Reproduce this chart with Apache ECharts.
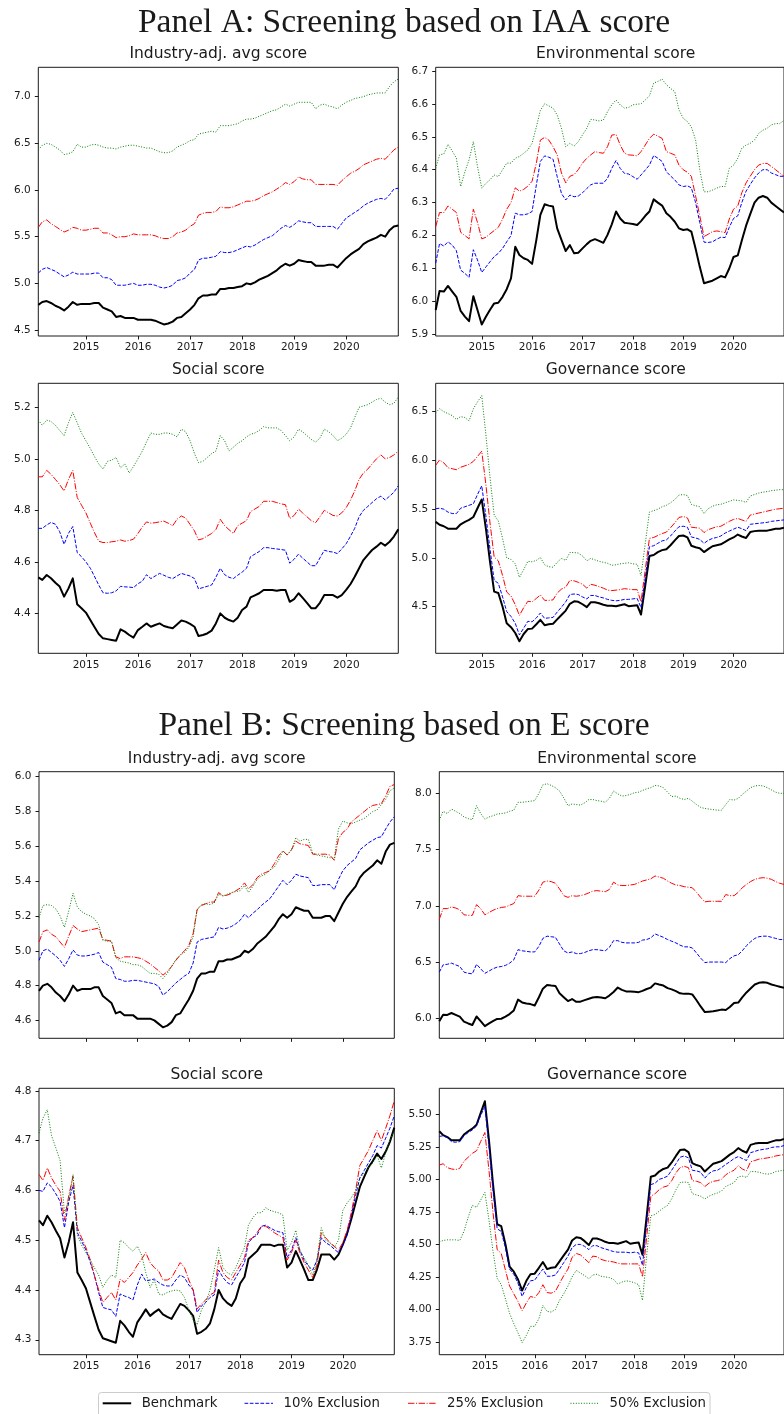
<!DOCTYPE html>
<html>
<head>
<meta charset="utf-8">
<script src="https://cdn.jsdelivr.net/npm/echarts@6/dist/echarts.min.js"></script>
<style>
html,body{margin:0;padding:0;background:#ffffff;}
#chart{width:784px;height:1414px;}
</style>
</head>
<body>
<div id="chart"></div>
<script>
// ---------------- DATA ----------------
// Monthly observations, month-ends Jan 2014 .. Dec 2020 (84 months)
const firstYear = 2014;
const nMonths = 84;
const yearTicks = [2015, 2016, 2017, 2018, 2019, 2020];
const seriesNames = ['Benchmark', '10% Exclusion', '25% Exclusion', '50% Exclusion'];
const panelTitles = ['Panel A: Screening based on IAA score', 'Panel B: Screening based on E score'];
const subTitles = ['Industry-adj. avg score', 'Environmental score', 'Social score', 'Governance score'];

// Benchmark (same in both panels)
const bench_ind = [
4.77,4.80,4.81,4.79,4.76,4.74,4.71,4.75,4.80,4.77,4.78,4.78,
4.78,4.79,4.79,4.74,4.72,4.70,4.64,4.65,4.63,4.63,4.63,4.61,
4.61,4.61,4.61,4.60,4.58,4.56,4.57,4.59,4.63,4.64,4.68,4.72,
4.77,4.84,4.87,4.87,4.88,4.88,4.94,4.94,4.95,4.95,4.96,4.97,
5.00,4.99,5.01,5.04,5.06,5.08,5.11,5.14,5.18,5.21,5.19,5.21,
5.25,5.24,5.23,5.23,5.19,5.19,5.19,5.20,5.20,5.17,5.22,5.27,
5.31,5.34,5.37,5.42,5.45,5.47,5.49,5.52,5.50,5.57,5.61,5.62];
const bench_env = [
5.974,6.032,6.030,6.047,6.030,6.014,5.971,5.954,5.940,6.016,5.974,5.930,
5.954,5.974,5.994,5.996,6.014,6.037,6.070,6.166,6.141,6.131,6.126,6.114,
6.187,6.263,6.295,6.291,6.288,6.222,6.187,6.153,6.171,6.146,6.148,6.161,
6.174,6.184,6.189,6.184,6.178,6.202,6.234,6.273,6.252,6.239,6.237,6.235,
6.232,6.244,6.260,6.273,6.310,6.300,6.291,6.268,6.257,6.242,6.222,6.217,
6.219,6.212,6.160,6.105,6.055,6.059,6.063,6.070,6.077,6.073,6.100,6.135,
6.140,6.185,6.230,6.265,6.300,6.315,6.320,6.315,6.300,6.290,6.280,6.270];
const bench_soc = [
4.540,4.530,4.549,4.536,4.519,4.504,4.465,4.497,4.536,4.435,4.420,4.403,
4.374,4.348,4.320,4.303,4.300,4.297,4.294,4.338,4.329,4.316,4.306,4.335,
4.348,4.361,4.348,4.355,4.361,4.351,4.346,4.342,4.357,4.372,4.368,4.359,
4.348,4.312,4.316,4.322,4.333,4.361,4.400,4.383,4.374,4.368,4.383,4.413,
4.426,4.462,4.470,4.478,4.491,4.491,4.491,4.488,4.491,4.491,4.445,4.455,
4.478,4.461,4.441,4.420,4.420,4.441,4.471,4.471,4.471,4.461,4.471,4.491,
4.514,4.542,4.575,4.607,4.627,4.646,4.659,4.674,4.663,4.678,4.698,4.726];
const bench_gov = [
5.370,5.340,5.325,5.300,5.300,5.300,5.345,5.370,5.390,5.420,5.510,5.600,
5.290,4.970,4.655,4.640,4.500,4.330,4.290,4.230,4.145,4.220,4.270,4.275,
4.320,4.365,4.310,4.320,4.325,4.370,4.415,4.460,4.530,4.555,4.550,4.525,
4.495,4.545,4.545,4.535,4.520,4.510,4.510,4.505,4.515,4.525,4.505,4.510,
4.515,4.420,4.720,5.020,5.030,5.060,5.080,5.090,5.130,5.180,5.225,5.230,
5.210,5.125,5.110,5.100,5.060,5.090,5.120,5.130,5.140,5.165,5.190,5.210,
5.240,5.220,5.205,5.265,5.275,5.280,5.280,5.280,5.290,5.300,5.300,5.310];

// Panel A: screening on IAA score
const a_ind_10 = [
5.11,5.15,5.17,5.15,5.13,5.10,5.07,5.09,5.12,5.10,5.10,5.10,
5.10,5.11,5.11,5.06,5.06,5.04,4.98,4.98,4.98,4.99,5.00,4.98,
4.98,4.99,4.99,4.98,4.96,4.95,4.96,4.98,5.03,5.04,5.06,5.11,
5.15,5.25,5.27,5.27,5.28,5.29,5.34,5.33,5.33,5.34,5.36,5.38,
5.40,5.39,5.41,5.44,5.47,5.49,5.51,5.55,5.59,5.62,5.60,5.63,
5.67,5.66,5.65,5.65,5.61,5.61,5.61,5.61,5.61,5.58,5.64,5.70,
5.73,5.76,5.79,5.83,5.86,5.88,5.90,5.91,5.90,5.95,6.01,6.02];
const a_ind_25 = [
5.60,5.66,5.68,5.64,5.61,5.58,5.55,5.57,5.60,5.59,5.57,5.57,
5.58,5.59,5.59,5.54,5.54,5.52,5.49,5.50,5.50,5.51,5.53,5.52,
5.52,5.52,5.52,5.51,5.49,5.48,5.48,5.50,5.54,5.55,5.57,5.61,
5.64,5.73,5.75,5.76,5.76,5.77,5.82,5.81,5.81,5.82,5.84,5.86,
5.88,5.88,5.89,5.91,5.94,5.96,5.98,6.01,6.04,6.08,6.06,6.09,
6.14,6.12,6.11,6.11,6.06,6.06,6.06,6.06,6.06,6.05,6.10,6.14,
6.18,6.20,6.23,6.27,6.29,6.31,6.33,6.34,6.33,6.38,6.43,6.46];
const a_ind_50 = [
6.43,6.48,6.50,6.49,6.46,6.43,6.38,6.39,6.41,6.49,6.46,6.46,
6.48,6.49,6.48,6.46,6.45,6.45,6.44,6.46,6.47,6.48,6.48,6.47,
6.46,6.45,6.45,6.43,6.41,6.40,6.40,6.42,6.46,6.48,6.50,6.53,
6.54,6.60,6.61,6.62,6.63,6.62,6.69,6.69,6.69,6.70,6.71,6.74,
6.76,6.76,6.77,6.79,6.81,6.83,6.85,6.86,6.89,6.92,6.90,6.92,
6.94,6.94,6.94,6.94,6.87,6.91,6.92,6.90,6.89,6.87,6.91,6.94,
6.96,6.98,6.99,7.00,7.02,7.03,7.04,7.04,7.04,7.11,7.16,7.19];
const a_env_10 = [
6.116,6.176,6.168,6.181,6.171,6.154,6.095,6.085,6.073,6.157,6.126,6.088,
6.105,6.120,6.136,6.146,6.161,6.181,6.200,6.268,6.263,6.263,6.266,6.273,
6.354,6.425,6.442,6.438,6.432,6.379,6.328,6.308,6.323,6.318,6.320,6.330,
6.343,6.354,6.359,6.359,6.359,6.374,6.404,6.428,6.404,6.389,6.387,6.379,
6.371,6.384,6.399,6.414,6.443,6.435,6.425,6.394,6.381,6.369,6.354,6.349,
6.351,6.345,6.300,6.240,6.180,6.179,6.181,6.189,6.195,6.194,6.225,6.252,
6.260,6.300,6.335,6.355,6.375,6.390,6.400,6.400,6.390,6.385,6.380,6.380];
const a_env_25 = [
6.227,6.270,6.270,6.290,6.280,6.270,6.210,6.200,6.190,6.280,6.240,6.190,
6.195,6.205,6.215,6.225,6.250,6.280,6.300,6.345,6.335,6.340,6.350,6.365,
6.420,6.490,6.498,6.490,6.470,6.445,6.390,6.360,6.380,6.385,6.400,6.420,
6.435,6.445,6.455,6.452,6.450,6.470,6.505,6.507,6.475,6.450,6.445,6.444,
6.442,6.455,6.475,6.495,6.508,6.502,6.495,6.455,6.450,6.445,6.414,6.400,
6.392,6.380,6.320,6.260,6.197,6.204,6.212,6.214,6.212,6.209,6.250,6.280,
6.290,6.330,6.360,6.380,6.400,6.414,6.419,6.419,6.410,6.400,6.390,6.380];
const a_env_50 = [
6.404,6.445,6.448,6.477,6.457,6.435,6.349,6.394,6.430,6.485,6.410,6.344,
6.359,6.369,6.384,6.379,6.400,6.420,6.420,6.435,6.440,6.450,6.460,6.480,
6.530,6.580,6.600,6.594,6.587,6.566,6.526,6.470,6.480,6.472,6.485,6.506,
6.526,6.553,6.551,6.548,6.551,6.576,6.597,6.612,6.597,6.587,6.589,6.597,
6.599,6.600,6.612,6.624,6.663,6.668,6.675,6.658,6.647,6.637,6.582,6.556,
6.546,6.530,6.490,6.400,6.333,6.333,6.338,6.344,6.349,6.349,6.404,6.414,
6.435,6.465,6.475,6.480,6.490,6.510,6.520,6.526,6.536,6.540,6.540,6.550];
const a_soc_10 = [
4.730,4.730,4.743,4.753,4.746,4.717,4.668,4.711,4.737,4.636,4.620,4.600,
4.575,4.545,4.510,4.480,4.478,4.480,4.487,4.505,4.503,4.502,4.500,4.515,
4.525,4.550,4.535,4.545,4.555,4.548,4.540,4.535,4.545,4.555,4.550,4.545,
4.535,4.495,4.500,4.505,4.510,4.540,4.575,4.550,4.540,4.535,4.548,4.560,
4.575,4.620,4.630,4.640,4.655,4.655,4.652,4.650,4.648,4.645,4.595,4.610,
4.630,4.615,4.600,4.585,4.585,4.615,4.645,4.640,4.638,4.632,4.650,4.670,
4.700,4.730,4.775,4.800,4.815,4.830,4.845,4.855,4.840,4.855,4.870,4.895];
const a_soc_25 = [
4.930,4.930,4.955,4.940,4.920,4.900,4.875,4.920,4.955,4.850,4.820,4.790,
4.750,4.715,4.680,4.675,4.675,4.678,4.680,4.685,4.680,4.683,4.688,4.710,
4.735,4.755,4.750,4.752,4.755,4.758,4.750,4.740,4.765,4.778,4.770,4.745,
4.720,4.685,4.690,4.700,4.710,4.725,4.765,4.740,4.725,4.710,4.740,4.750,
4.760,4.795,4.805,4.815,4.835,4.835,4.835,4.830,4.825,4.822,4.768,4.780,
4.805,4.790,4.775,4.760,4.752,4.775,4.800,4.790,4.780,4.778,4.790,4.810,
4.840,4.875,4.920,4.945,4.960,4.980,5.000,5.015,5.000,5.005,5.015,5.030];
const a_soc_50 = [
5.150,5.130,5.150,5.145,5.130,5.110,5.090,5.140,5.180,5.140,5.100,5.070,
5.040,5.010,4.980,4.960,4.990,4.995,5.005,4.965,4.980,4.945,4.970,5.000,
5.030,5.065,5.100,5.095,5.095,5.100,5.100,5.095,5.085,5.115,5.105,5.070,
5.020,4.985,4.990,5.005,5.020,5.030,5.090,5.070,5.030,5.045,5.060,5.070,
5.085,5.095,5.100,5.110,5.125,5.120,5.120,5.120,5.110,5.090,5.070,5.085,
5.115,5.105,5.090,5.075,5.065,5.080,5.115,5.105,5.090,5.070,5.080,5.095,
5.120,5.160,5.200,5.205,5.210,5.220,5.230,5.235,5.220,5.210,5.215,5.240];
const a_gov_10 = [
5.505,5.510,5.500,5.470,5.455,5.455,5.510,5.525,5.540,5.555,5.650,5.740,
5.420,5.100,4.770,4.740,4.600,4.450,4.400,4.330,4.210,4.280,4.350,4.345,
4.385,4.435,4.380,4.385,4.390,4.445,4.495,4.550,4.625,4.630,4.625,4.600,
4.580,4.615,4.615,4.600,4.590,4.575,4.565,4.560,4.565,4.575,4.575,4.580,
4.585,4.490,4.800,5.115,5.125,5.150,5.175,5.185,5.225,5.275,5.320,5.325,
5.315,5.215,5.205,5.190,5.150,5.180,5.200,5.210,5.225,5.255,5.275,5.295,
5.315,5.300,5.280,5.345,5.350,5.355,5.360,5.365,5.375,5.380,5.385,5.390];
const a_gov_25 = [
5.950,6.005,5.975,5.925,5.915,5.905,5.930,5.945,5.960,5.990,6.040,6.095,
5.740,5.370,5.010,4.970,4.820,4.650,4.610,4.520,4.410,4.490,4.555,4.550,
4.585,4.620,4.565,4.565,4.570,4.640,4.680,4.700,4.770,4.765,4.750,4.730,
4.690,4.730,4.720,4.705,4.690,4.670,4.665,4.670,4.675,4.685,4.680,4.675,
4.675,4.550,4.880,5.200,5.210,5.230,5.250,5.265,5.310,5.360,5.415,5.425,
5.410,5.315,5.310,5.305,5.260,5.290,5.305,5.320,5.325,5.350,5.375,5.395,
5.405,5.390,5.375,5.440,5.450,5.460,5.470,5.480,5.490,5.500,5.505,5.510];
const a_gov_50 = [
6.490,6.530,6.500,6.480,6.460,6.420,6.450,6.440,6.405,6.530,6.600,6.665,
6.250,5.840,5.440,5.380,5.200,5.000,4.985,4.940,4.800,4.880,4.965,4.960,
4.975,5.005,4.930,4.910,4.905,4.955,4.995,4.975,5.055,5.055,5.050,5.020,
4.970,4.995,4.980,4.965,4.955,4.945,4.925,4.930,4.940,4.945,4.950,4.940,
4.935,4.820,5.150,5.470,5.485,5.500,5.525,5.540,5.565,5.600,5.645,5.650,
5.640,5.550,5.535,5.525,5.455,5.505,5.530,5.545,5.550,5.565,5.580,5.595,
5.590,5.585,5.570,5.635,5.650,5.665,5.675,5.680,5.690,5.695,5.700,5.700];

// Panel B: screening on E score
const b_ind_10 = [
4.945,5.000,5.010,4.990,4.970,4.945,4.910,4.955,5.005,4.975,4.970,4.970,
4.975,4.980,4.990,4.935,4.920,4.905,4.840,4.835,4.825,4.825,4.830,4.830,
4.825,4.820,4.815,4.810,4.795,4.745,4.765,4.790,4.815,4.835,4.855,4.870,
4.930,5.050,5.065,5.070,5.075,5.080,5.135,5.125,5.130,5.140,5.155,5.175,
5.210,5.190,5.215,5.235,5.260,5.280,5.300,5.335,5.370,5.405,5.380,5.405,
5.440,5.430,5.425,5.420,5.375,5.375,5.380,5.380,5.380,5.350,5.410,5.460,
5.490,5.510,5.530,5.580,5.600,5.620,5.635,5.650,5.655,5.700,5.740,5.770];
const b_ind_25 = [
5.050,5.110,5.120,5.095,5.080,5.050,5.020,5.085,5.145,5.125,5.110,5.115,
5.120,5.125,5.130,5.065,5.060,5.055,4.965,4.955,4.965,4.965,4.965,4.960,
4.955,4.940,4.925,4.905,4.885,4.860,4.880,4.910,4.945,4.975,5.000,5.030,
5.100,5.235,5.260,5.270,5.280,5.280,5.335,5.315,5.320,5.330,5.345,5.360,
5.390,5.355,5.380,5.420,5.440,5.450,5.460,5.500,5.545,5.575,5.550,5.580,
5.630,5.615,5.610,5.605,5.555,5.555,5.555,5.555,5.550,5.520,5.645,5.680,
5.700,5.740,5.760,5.780,5.800,5.820,5.835,5.840,5.845,5.890,5.945,5.955];
const b_ind_50 = [
5.190,5.260,5.265,5.260,5.240,5.200,5.135,5.230,5.330,5.250,5.225,5.210,
5.200,5.185,5.150,5.060,5.055,5.055,4.960,4.940,4.935,4.930,4.920,4.920,
4.910,4.890,4.870,4.870,4.865,4.840,4.870,4.910,4.950,4.975,4.990,5.020,
5.080,5.240,5.265,5.270,5.265,5.275,5.325,5.315,5.325,5.335,5.340,5.345,
5.375,5.335,5.370,5.410,5.430,5.440,5.465,5.480,5.520,5.575,5.550,5.580,
5.650,5.630,5.640,5.640,5.560,5.550,5.545,5.540,5.535,5.530,5.700,5.745,
5.735,5.730,5.740,5.750,5.760,5.780,5.800,5.810,5.840,5.870,5.920,5.935];
const b_env_10 = [
6.410,6.475,6.480,6.490,6.475,6.460,6.410,6.400,6.395,6.480,6.440,6.400,
6.420,6.440,6.455,6.460,6.470,6.490,6.520,6.610,6.600,6.595,6.590,6.590,
6.640,6.710,6.730,6.725,6.720,6.660,6.600,6.580,6.590,6.575,6.575,6.585,
6.600,6.610,6.610,6.605,6.600,6.630,6.690,6.690,6.675,6.670,6.670,6.670,
6.675,6.695,6.700,6.715,6.750,6.735,6.720,6.700,6.685,6.670,6.650,6.635,
6.635,6.625,6.580,6.535,6.495,6.500,6.500,6.500,6.500,6.495,6.530,6.555,
6.565,6.600,6.645,6.680,6.710,6.725,6.730,6.730,6.720,6.710,6.700,6.700];
const b_env_25 = [
6.880,6.975,6.975,6.990,6.980,6.965,6.920,6.915,6.915,7.010,6.975,6.920,
6.940,6.960,6.975,6.985,6.990,7.005,7.020,7.090,7.085,7.085,7.085,7.085,
7.140,7.210,7.220,7.215,7.200,7.150,7.090,7.075,7.090,7.085,7.090,7.100,
7.115,7.130,7.135,7.130,7.125,7.145,7.210,7.185,7.180,7.180,7.185,7.190,
7.205,7.220,7.230,7.240,7.265,7.255,7.245,7.220,7.200,7.185,7.180,7.170,
7.165,7.160,7.120,7.075,7.035,7.040,7.040,7.040,7.040,7.100,7.090,7.090,
7.120,7.160,7.190,7.215,7.235,7.245,7.250,7.245,7.235,7.215,7.200,7.190];
const b_env_50 = [
7.760,7.840,7.820,7.860,7.840,7.820,7.790,7.775,7.765,7.890,7.820,7.770,
7.790,7.800,7.815,7.820,7.825,7.840,7.850,7.920,7.920,7.925,7.930,7.935,
8.000,8.075,8.085,8.070,8.050,8.020,7.960,7.890,7.905,7.900,7.895,7.915,
7.945,7.945,7.935,7.930,7.920,7.955,8.020,7.995,7.975,7.980,7.990,8.005,
8.010,8.025,8.040,8.050,8.070,8.065,8.050,8.010,7.970,7.975,7.955,7.945,
7.955,7.930,7.900,7.875,7.865,7.860,7.855,7.850,7.850,7.900,7.945,7.940,
7.955,7.990,8.020,8.050,8.065,8.070,8.065,8.050,8.030,8.010,8.000,8.000];
const b_soc_10 = [
4.600,4.598,4.615,4.607,4.593,4.578,4.525,4.578,4.610,4.515,4.498,4.480,
4.455,4.430,4.395,4.365,4.362,4.360,4.347,4.392,4.388,4.385,4.380,4.410,
4.432,4.418,4.420,4.422,4.415,4.410,4.408,4.408,4.420,4.430,4.425,4.410,
4.400,4.355,4.368,4.375,4.385,4.390,4.440,4.425,4.415,4.410,4.425,4.440,
4.455,4.495,4.505,4.510,4.528,4.530,4.525,4.520,4.517,4.515,4.465,4.480,
4.505,4.480,4.460,4.448,4.440,4.460,4.505,4.495,4.490,4.482,4.475,4.490,
4.510,4.550,4.590,4.625,4.640,4.655,4.670,4.690,4.685,4.705,4.725,4.750];
const b_soc_25 = [
4.632,4.620,4.645,4.625,4.610,4.598,4.540,4.590,4.628,4.525,4.505,4.485,
4.460,4.430,4.400,4.375,4.385,4.395,4.380,4.422,4.415,4.425,4.435,4.450,
4.462,4.475,4.455,4.445,4.438,4.420,4.420,4.425,4.440,4.455,4.445,4.420,
4.400,4.362,4.372,4.380,4.390,4.395,4.460,4.435,4.425,4.420,4.435,4.450,
4.465,4.500,4.505,4.515,4.528,4.528,4.522,4.515,4.510,4.505,4.460,4.475,
4.500,4.475,4.455,4.440,4.425,4.450,4.515,4.505,4.495,4.488,4.480,4.495,
4.520,4.555,4.600,4.650,4.665,4.680,4.700,4.720,4.700,4.725,4.750,4.780];
const b_soc_50 = [
4.715,4.745,4.762,4.710,4.685,4.660,4.555,4.580,4.632,4.510,4.490,4.475,
4.460,4.445,4.430,4.405,4.420,4.430,4.425,4.500,4.495,4.485,4.478,4.488,
4.470,4.435,4.405,4.420,4.392,4.390,4.395,4.398,4.400,4.398,4.385,4.360,
4.340,4.330,4.360,4.375,4.400,4.440,4.485,4.445,4.435,4.430,4.445,4.465,
4.485,4.530,4.545,4.555,4.555,4.565,4.560,4.557,4.555,4.550,4.480,4.495,
4.520,4.480,4.465,4.450,4.430,4.460,4.525,4.500,4.495,4.485,4.500,4.560,
4.575,4.585,4.600,4.625,4.635,4.645,4.655,4.670,4.645,4.675,4.700,4.720];
const b_gov_10 = [
5.330,5.335,5.320,5.290,5.285,5.290,5.335,5.360,5.380,5.410,5.490,5.560,
5.240,4.920,4.620,4.600,4.470,4.310,4.270,4.200,4.100,4.170,4.220,4.225,
4.270,4.310,4.255,4.255,4.265,4.310,4.360,4.410,4.475,4.500,4.500,4.485,
4.460,4.490,4.490,4.475,4.465,4.455,4.445,4.440,4.440,4.440,4.435,4.440,
4.435,4.340,4.660,4.960,4.970,5.000,5.010,5.025,5.070,5.120,5.170,5.180,
5.165,5.070,5.065,5.055,5.010,5.045,5.065,5.070,5.090,5.115,5.135,5.160,
5.175,5.160,5.145,5.205,5.215,5.225,5.230,5.235,5.245,5.250,5.250,5.260];
const b_gov_25 = [
5.110,5.120,5.090,5.080,5.075,5.085,5.140,5.170,5.200,5.220,5.290,5.360,
5.060,4.750,4.460,4.430,4.300,4.180,4.120,4.060,3.990,4.050,4.100,4.090,
4.130,4.190,4.130,4.125,4.140,4.200,4.260,4.310,4.400,4.430,4.420,4.390,
4.360,4.410,4.405,4.385,4.375,4.370,4.365,4.355,4.350,4.350,4.350,4.350,
4.350,4.250,4.560,4.870,4.890,4.920,4.940,4.950,4.990,5.050,5.090,5.100,
5.090,4.990,4.985,4.975,4.945,4.970,4.985,4.990,5.000,5.035,5.055,5.070,
5.105,5.080,5.065,5.135,5.145,5.155,5.160,5.165,5.170,5.180,5.185,5.190];
const b_gov_50 = [
4.520,4.530,4.535,4.535,4.535,4.530,4.600,4.710,4.800,4.785,4.840,4.900,
4.680,4.450,4.240,4.190,4.080,3.970,3.890,3.820,3.745,3.800,3.870,3.870,
3.930,4.030,3.985,3.980,4.000,4.070,4.120,4.180,4.250,4.300,4.280,4.260,
4.235,4.265,4.270,4.255,4.250,4.245,4.230,4.195,4.210,4.220,4.215,4.205,
4.190,4.070,4.420,4.720,4.730,4.755,4.780,4.800,4.850,4.920,4.975,4.980,
4.975,4.890,4.880,4.870,4.850,4.870,4.885,4.895,4.910,4.945,4.960,4.975,
5.020,5.025,5.015,5.060,5.060,5.055,5.045,5.040,5.045,5.060,5.065,5.070];

// y-axis tick labels per subplot
const yTicks_A_ind = [4.5, 5.0, 5.5, 6.0, 6.5, 7.0];
const yTicks_A_env = [5.9, 6.0, 6.1, 6.2, 6.3, 6.4, 6.5, 6.6, 6.7];
const yTicks_A_soc = [4.4, 4.6, 4.8, 5.0, 5.2];
const yTicks_A_gov = [4.5, 5.0, 5.5, 6.0, 6.5];
const yTicks_B_ind = [4.6, 4.8, 5.0, 5.2, 5.4, 5.6, 5.8, 6.0];
const yTicks_B_env = [6.0, 6.5, 7.0, 7.5, 8.0];
const yTicks_B_soc = [4.3, 4.4, 4.5, 4.6, 4.7, 4.8];
const yTicks_B_gov = [3.75, 4.00, 4.25, 4.50, 4.75, 5.00, 5.25, 5.50];

// ---------------- LAYOUT / STYLE ----------------
const dates = [];
for (let i = 0; i < nMonths; i++) dates.push(Date.UTC(firstYear, i + 1, 0)); // month-end timestamps
const xTickValues = yearTicks.map(y => Date.UTC(y, 0, 1));

const styles = [
  {color: '#000000', width: 2, type: 'solid', dash: null},
  {color: '#0000ff', width: 1, type: [3.7, 1.6], dash: [3.7, 1.6]},
  {color: '#ff0000', width: 1, type: [6.4, 1.6, 1, 1.6], dash: [6.4, 1.6, 1, 1.6]},
  {color: '#008000', width: 1, type: [1, 1.65], dash: [1, 1.65]}
];

const panels = [
  {g:{left:38.3, top:67.3, width:360, height:268.7}, ttl:0, y:[4.436, 7.315], ticks:yTicks_A_ind, dec:1, xl:true, s:[bench_ind, a_ind_10, a_ind_25, a_ind_50]},
  {g:{left:435.7, top:67.3, width:360, height:268.7}, ttl:1, y:[5.895, 6.711], ticks:yTicks_A_env, dec:1, xl:true, s:[bench_env, a_env_10, a_env_25, a_env_50]},
  {g:{left:38.3, top:383.3, width:360, height:270}, ttl:2, y:[4.245, 5.293], ticks:yTicks_A_soc, dec:1, xl:true, s:[bench_soc, a_soc_10, a_soc_25, a_soc_50]},
  {g:{left:435.7, top:383.3, width:360, height:270}, ttl:3, y:[4.022, 6.791], ticks:yTicks_A_gov, dec:1, xl:true, s:[bench_gov, a_gov_10, a_gov_25, a_gov_50]},
  {g:{left:39, top:771.7, width:355.3, height:266.6}, ttl:0, y:[4.497, 6.029], ticks:yTicks_B_ind, dec:1, xl:false, s:[bench_ind, b_ind_10, b_ind_25, b_ind_50]},
  {g:{left:439.3, top:771.7, width:355.3, height:266.6}, ttl:1, y:[5.822, 8.192], ticks:yTicks_B_env, dec:1, xl:false, s:[bench_env, b_env_10, b_env_25, b_env_50]},
  {g:{left:39, top:1088.3, width:355.3, height:266.4}, ttl:2, y:[4.270, 4.805], ticks:yTicks_B_soc, dec:1, xl:true, s:[bench_soc, b_soc_10, b_soc_25, b_soc_50]},
  {g:{left:439.3, top:1088.3, width:355.3, height:266.4}, ttl:3, y:[3.652, 5.700], ticks:yTicks_B_gov, dec:2, xl:true, s:[bench_gov, b_gov_10, b_gov_25, b_gov_50]}
];

const FONT = 'DejaVu Sans';
const grids = [], xAxes = [], yAxes = [], series = [], graphics = [];

panels.forEach((p, k) => {
  grids.push(Object.assign({show: true, borderColor: '#1a1a1a', borderWidth: 1, backgroundColor: 'transparent', containLabel: false}, p.g));
  xAxes.push({
    type: 'value', gridIndex: k, min: dates[0], max: dates[nMonths - 1],
    splitLine: {show: false}, axisLine: {show: false},
    axisTick: {show: true, customValues: xTickValues, length: 3.5, lineStyle: {color: '#1a1a1a', width: 1}},
    axisLabel: {show: p.xl, customValues: xTickValues, margin: 6, fontFamily: FONT, fontSize: 10.5, color: '#1a1a1a',
      formatter: v => String(new Date(v).getUTCFullYear())}
  });
  yAxes.push({
    type: 'value', gridIndex: k, min: p.y[0], max: p.y[1],
    splitLine: {show: false}, axisLine: {show: false},
    axisTick: {show: true, customValues: p.ticks, length: 3.5, lineStyle: {color: '#1a1a1a', width: 1}},
    axisLabel: {customValues: p.ticks, margin: 7.5, fontFamily: FONT, fontSize: 10.5, color: '#1a1a1a',
      formatter: v => Number(v).toFixed(p.dec)}
  });
  p.s.forEach((arr, j) => {
    series.push({
      type: 'line', name: seriesNames[j], xAxisIndex: k, yAxisIndex: k,
      data: arr.map((v, i) => [dates[i], v]),
      symbol: 'none', showSymbol: false, smooth: false, silent: true, z: 2 + j,
      lineStyle: {color: styles[j].color, width: styles[j].width, type: styles[j].type, cap: 'butt', join: 'round'},
      itemStyle: {color: styles[j].color}
    });
  });
  graphics.push({
    type: 'text', x: p.g.left + p.g.width / 2, y: p.g.top - 13,
    style: {text: subTitles[p.ttl], fontFamily: FONT, fontSize: 15.5, fill: '#1a1a1a', align: 'center', verticalAlign: 'middle'}
  });
});

graphics.push({type: 'text', x: 404, y: 23, style: {text: panelTitles[0], fontFamily: 'Liberation Serif', fontSize: 33.5, fill: '#1a1a1a', align: 'center', verticalAlign: 'middle'}});
graphics.push({type: 'text', x: 404, y: 726, style: {text: panelTitles[1], fontFamily: 'Liberation Serif', fontSize: 33.5, fill: '#1a1a1a', align: 'center', verticalAlign: 'middle'}});

// ---- legend (drawn as graphic: frame, handle lines and real text) ----
const legendBox = {x: 98.5, y: 1392.5, w: 611.5, h: 30};
const legendHandleX = [102.7, 244.5, 408, 570.5];
const legendHandleLen = 28.5;
const legendY = 1403.3;
graphics.push({type: 'rect', z: 50, shape: {x: legendBox.x, y: legendBox.y, width: legendBox.w, height: legendBox.h, r: 3},
  style: {fill: 'rgba(255,255,255,0.8)', stroke: '#cccccc', lineWidth: 1}});
seriesNames.forEach((n, j) => {
  const hx = legendHandleX[j];
  graphics.push({type: 'line', z: 51, shape: {x1: hx, y1: legendY, x2: hx + legendHandleLen, y2: legendY},
    style: {stroke: styles[j].color, lineWidth: styles[j].width, lineDash: styles[j].dash, lineCap: 'butt'}});
  graphics.push({type: 'text', z: 51, x: hx + 39, y: legendY,
    style: {text: n, fontFamily: FONT, fontSize: 13.3, fill: '#1a1a1a', align: 'left', verticalAlign: 'middle'}});
});

const chart = echarts.init(document.getElementById('chart'), null, {renderer: 'canvas', width: 784, height: 1414});
chart.setOption({
  animation: false,
  backgroundColor: '#ffffff',
  grid: grids, xAxis: xAxes, yAxis: yAxes, series: series,
  graphic: graphics
});
</script>
</body>
</html>
